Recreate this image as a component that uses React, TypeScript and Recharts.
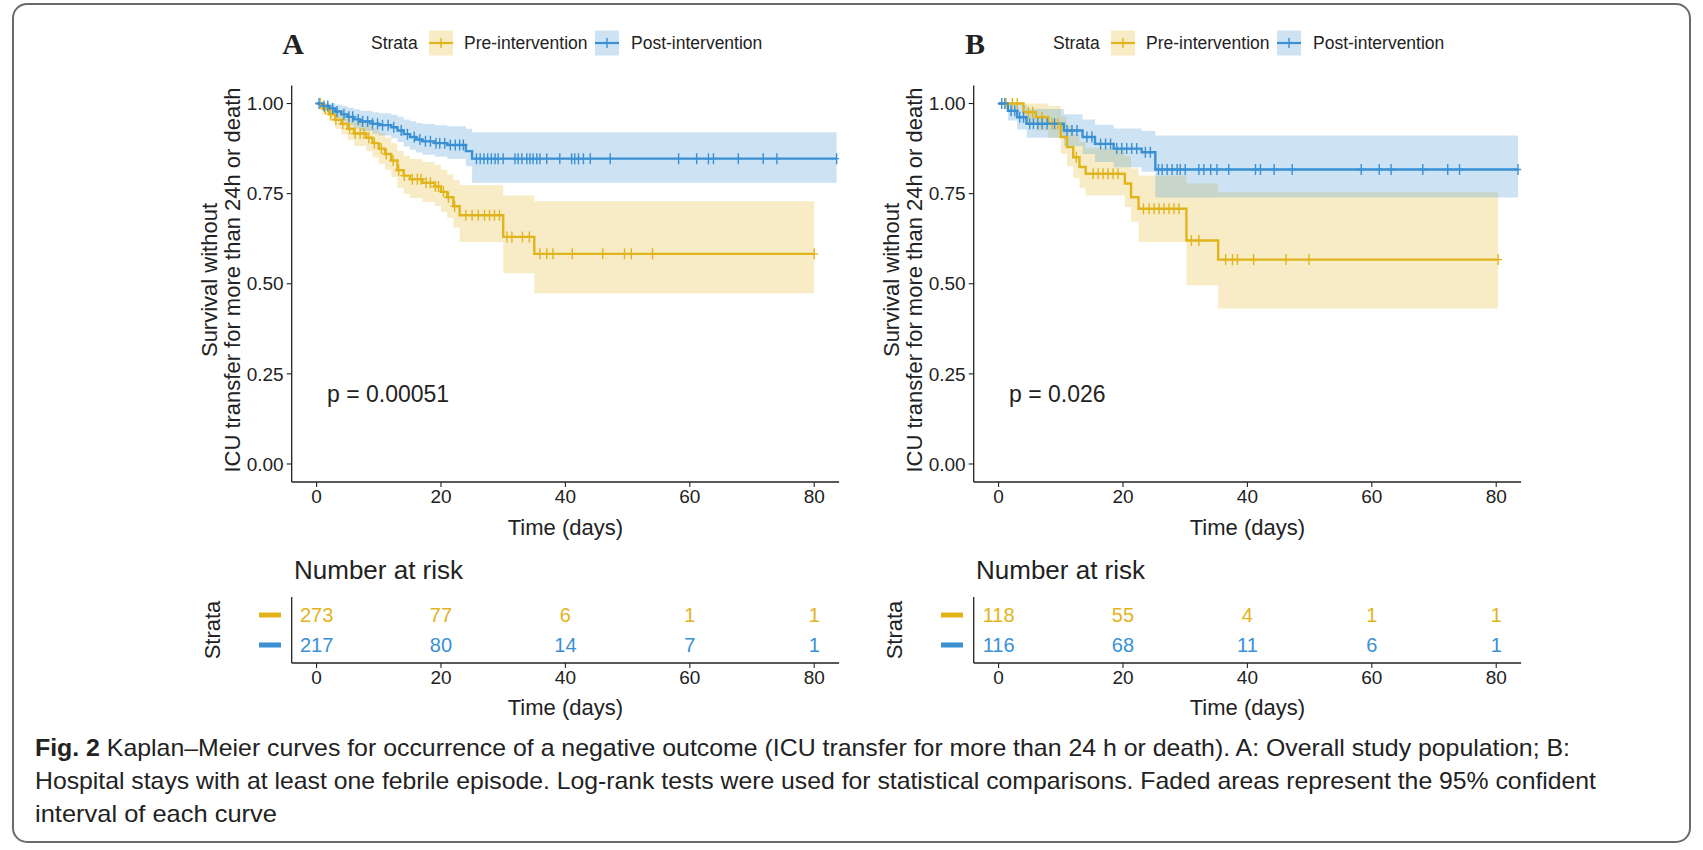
import React from 'react';
import { ComposedChart, Line, Area, Scatter, XAxis, YAxis } from 'recharts';

const FONT = "'Liberation Sans', Arial, Helvetica, sans-serif";
const GOLD = '#E2B41C';
const BLUE = '#3990D3';
const INK = '#222';

// ---- Panel A: overall study population ----
const preA_time = [0, 1, 2, 3, 4, 5, 6, 8, 9, 10, 11, 12, 13, 14, 15, 17, 19, 20, 21, 22, 23, 30, 35, 80];
const preA_surv = [1, 0.985, 0.97, 0.955, 0.944, 0.93, 0.917, 0.905, 0.89, 0.875, 0.86, 0.842, 0.815, 0.8, 0.79, 0.78, 0.77, 0.755, 0.74, 0.715, 0.69, 0.63, 0.583, 0.583];
const preA_lower = [1, 0.97, 0.95, 0.93, 0.915, 0.898, 0.882, 0.868, 0.85, 0.833, 0.816, 0.796, 0.766, 0.75, 0.738, 0.727, 0.716, 0.7, 0.683, 0.656, 0.616, 0.529, 0.473, 0.473];
const preA_upper = [1, 1, 0.99, 0.98, 0.972, 0.962, 0.952, 0.942, 0.93, 0.918, 0.906, 0.89, 0.868, 0.855, 0.846, 0.838, 0.83, 0.816, 0.803, 0.787, 0.773, 0.745, 0.729, 0.729];
const preA_censor = [0.6, 1.4, 2.3, 3.1, 4.2, 5.3, 6.2, 7, 7.6, 8.4, 9.3, 10.4, 11.2, 12.3, 13.2, 14.1, 15.4, 16.2, 16.8, 17.6, 18.3, 19.1, 19.6, 20.4, 21.2, 22.2, 24, 25, 26, 27, 27.8, 28.6, 29.4, 30.6, 31.4, 33.1, 34.2, 35.9, 37, 38, 41.1, 46, 49.5, 50.6, 54, 80];

const postA_time = [0, 1, 2, 3, 4, 5, 6, 7, 9, 10, 12, 13, 14, 15, 16, 17, 19, 21, 24, 25, 83.6];
const postA_surv = [1, 0.993, 0.986, 0.978, 0.97, 0.963, 0.956, 0.95, 0.944, 0.94, 0.934, 0.925, 0.915, 0.907, 0.9, 0.895, 0.89, 0.885, 0.868, 0.847, 0.847];
const postA_lower = [1, 0.983, 0.972, 0.96, 0.95, 0.94, 0.931, 0.924, 0.916, 0.911, 0.904, 0.893, 0.881, 0.872, 0.864, 0.858, 0.852, 0.846, 0.826, 0.78, 0.78];
const postA_upper = [1, 1, 1, 0.997, 0.993, 0.988, 0.984, 0.98, 0.976, 0.973, 0.969, 0.963, 0.956, 0.951, 0.946, 0.943, 0.94, 0.937, 0.93, 0.92, 0.92];
const postA_censor = [0.4, 1.2, 1.8, 2.6, 3.3, 4.4, 5.2, 5.8, 6.7, 7.4, 8.2, 9, 9.8, 10.6, 11.5, 12.4, 13.6, 14.6, 15.7, 16.6, 17.5, 18.3, 19.2, 19.8, 20.6, 21.5, 22.3, 23, 23.6, 25.7, 26.3, 26.9, 27.5, 28.1, 28.7, 29.2, 30, 31.9, 32.4, 33, 33.8, 34.3, 34.8, 35.4, 35.9, 37, 39.1, 41, 41.5, 42.1, 42.9, 44, 47.2, 58.2, 61.1, 63, 63.8, 67.8, 71.8, 74, 83.6];

// ---- Panel B: stays with at least one febrile episode ----
const preB_time = [0, 4, 6, 8, 10, 11, 12, 13, 14, 20.3, 21.3, 22.5, 30.2, 35.3, 80.3];
const preB_surv = [1, 0.976, 0.962, 0.944, 0.907, 0.879, 0.851, 0.824, 0.805, 0.778, 0.74, 0.708, 0.62, 0.567, 0.567];
const preB_lower = [1, 0.945, 0.925, 0.905, 0.86, 0.826, 0.793, 0.766, 0.745, 0.713, 0.672, 0.616, 0.496, 0.431, 0.431];
const preB_upper = [1, 1, 1, 0.993, 0.965, 0.94, 0.914, 0.893, 0.876, 0.853, 0.82, 0.8, 0.778, 0.754, 0.754];
const preB_censor = [1.2, 2.2, 3, 4.8, 5.5, 7, 8.6, 9.5, 12.5, 15.2, 16, 16.8, 17.6, 18.4, 19.2, 23.3, 24.2, 25, 25.8, 26.6, 27.4, 28.2, 29, 31, 32.2, 36.5, 37.6, 38.4, 41, 46.2, 49.9, 80.3];

const postB_time = [0, 1.5, 3, 4.5, 10.5, 13.5, 15.5, 18.5, 23, 25.2, 83.5];
const postB_surv = [1, 0.98, 0.962, 0.944, 0.925, 0.907, 0.888, 0.875, 0.865, 0.817, 0.817];
const postB_lower = [1, 0.953, 0.928, 0.905, 0.882, 0.86, 0.838, 0.823, 0.811, 0.739, 0.739];
const postB_upper = [1, 1, 0.996, 0.985, 0.97, 0.956, 0.941, 0.931, 0.924, 0.911, 0.911];
const postB_censor = [0.5, 1, 2, 2.6, 3.4, 4, 5, 5.6, 6.3, 7, 7.8, 9, 11, 11.8, 12.6, 14.2, 15, 16.4, 17.2, 18, 19, 19.8, 20.6, 21.4, 22.2, 23.6, 24.4, 25.7, 26.3, 27.1, 27.9, 28.7, 29.2, 30, 32.2, 33, 34.1, 35.1, 37, 41.3, 42.1, 44.3, 47.2, 58.3, 61.2, 63.1, 68.2, 72.2, 74.1, 83.5];

// ---- number at risk ----
const timeTicks = [0, 20, 40, 60, 80];
const riskA_pre = [273, 77, 6, 1, 1];
const riskA_post = [217, 80, 14, 7, 1];
const riskB_pre = [118, 55, 4, 1, 1];
const riskB_post = [116, 68, 11, 6, 1];

const survTicks = [0, 0.25, 0.5, 0.75, 1];
const strataLabels = ['Pre-intervention', 'Post-intervention'];
const pValues = ['p = 0.00051', 'p = 0.026'];
const yTitle = ['Survival without', 'ICU transfer for more than 24h or death'];
const captionLines = [
  'Kaplan\u2013Meier curves for occurrence of a negative outcome (ICU transfer for more than 24 h or death). A: Overall study population; B:',
  'Hospital stays with at least one febrile episode. Log-rank tests were used for statistical comparisons. Faded areas represent the 95% confident',
  'interval of each curve',
];

const steps = (time: number[], surv: number[], lo: number[], hi: number[]) =>
  time.map((t, i) => ({ t, s: surv[i], ci: [lo[i], hi[i]] }));

const censorPoints = (censor: number[], time: number[], surv: number[]) =>
  censor.map((c) => {
    let k = 0;
    time.forEach((t, i) => { if (t <= c) k = i; });
    return { t: c, s: surv[k] };
  });

const riskRows = (pre: number[], post: number[]) => [
  timeTicks.map((t, i) => ({ t, row: 2, n: pre[i] })),
  timeTicks.map((t, i) => ({ t, row: 1, n: post[i] })),
];

const plusShape = (color: string) => (p: any) => (
  <g stroke={color} strokeWidth={1.4}>
    <line x1={p.cx} x2={p.cx} y1={p.cy - 5.5} y2={p.cy + 5.5} />
    <line x1={p.cx - 4} x2={p.cx + 4} y1={p.cy} y2={p.cy} />
  </g>
);

const riskText = (color: string) => (p: any) => (
  <text x={p.cx} y={p.cy} textAnchor="middle" dominantBaseline="central" fill={color} fontSize={20} fontFamily={FONT}>
    {p.payload.n}
  </text>
);

const StrataTick = (p: any) => (
  <rect x={109} y={p.y - 2.5} width={22} height={5} fill={p.payload.value === 2 ? GOLD : BLUE} />
);

const axisProps = {
  axisLine: { stroke: INK, strokeWidth: 1.3 },
  tickLine: { stroke: INK, strokeWidth: 1.1 },
  tick: { fill: INK, fontSize: 19, fontFamily: FONT },
};

const MARGIN_KM = { top: 25.5, right: 20.9, bottom: 18, left: 81.7 };
const MARGIN_RISK = { top: 12, right: 20.9, bottom: 12, left: 81.7 };

function Panel({ dx, pre, post, risk }: any) {
  const preSteps = steps(pre.time, pre.surv, pre.lower, pre.upper);
  const postSteps = steps(post.time, post.surv, post.lower, post.upper);
  const [riskPre, riskPost] = riskRows(risk.pre, risk.post);
  return (
    <>
      <div style={{ position: 'absolute', left: 150 + dx, top: 60 }}>
        <ComposedChart width={710} height={490} margin={MARGIN_KM}>
          <XAxis type="number" dataKey="t" domain={[-4, 84]} ticks={timeTicks} allowDataOverflow
            height={50} tickSize={5} tickMargin={3} {...axisProps} />
          <YAxis type="number" domain={[-0.05, 1.05]} ticks={survTicks} allowDataOverflow width={60}
            tickSize={5} tickMargin={3} tickFormatter={(v: number) => v.toFixed(2)} {...axisProps} />
          <Area data={preSteps} dataKey="ci" type="stepAfter" fill={GOLD} fillOpacity={0.25} stroke="none" isAnimationActive={false} />
          <Area data={postSteps} dataKey="ci" type="stepAfter" fill={BLUE} fillOpacity={0.25} stroke="none" isAnimationActive={false} />
          <Line data={preSteps} dataKey="s" type="stepAfter" stroke={GOLD} strokeWidth={2.4} dot={false} isAnimationActive={false} />
          <Line data={postSteps} dataKey="s" type="stepAfter" stroke={BLUE} strokeWidth={2.4} dot={false} isAnimationActive={false} />
          <Scatter data={censorPoints(pre.censor, pre.time, pre.surv)} dataKey="s" shape={plusShape(GOLD)} isAnimationActive={false} />
          <Scatter data={censorPoints(post.censor, post.time, post.surv)} dataKey="s" shape={plusShape(BLUE)} isAnimationActive={false} />
        </ComposedChart>
      </div>
      <div style={{ position: 'absolute', left: 150 + dx, top: 585 }}>
        <ComposedChart width={710} height={140} margin={MARGIN_RISK}>
          <XAxis type="number" dataKey="t" domain={[-4, 84]} ticks={timeTicks} allowDataOverflow
            height={50} tickSize={5} tickMargin={3} {...axisProps} />
          <YAxis type="number" domain={[0.4, 2.6]} ticks={[1, 2]} width={60} tickLine={false}
            axisLine={{ stroke: INK, strokeWidth: 1.3 }} tick={StrataTick} />
          <Scatter data={riskPre} dataKey="row" shape={riskText(GOLD)} isAnimationActive={false} />
          <Scatter data={riskPost} dataKey="row" shape={riskText(BLUE)} isAnimationActive={false} />
        </ComposedChart>
      </div>
    </>
  );
}

function PanelText({ dx, letter, p }: { dx: number; letter: string; p: string }) {
  const t = { fontFamily: FONT, fill: INK, dominantBaseline: 'central' as const };
  return (
    <g>
      <text x={293 + dx} y={43} textAnchor="middle" fontFamily="'Liberation Serif', serif" fontWeight="bold" fontSize={30} fill={INK} dominantBaseline="central">{letter}</text>
      <text x={371 + dx} y={43} fontSize={17.5} {...t}>Strata</text>
      {[GOLD, BLUE].map((c, i) => {
        const kx = (i === 0 ? 429 : 595) + dx;
        return (
          <g key={c}>
            <rect x={kx} y={30.5} width={24} height={25} fill={c} fillOpacity={0.25} />
            <line x1={kx} x2={kx + 24} y1={43} y2={43} stroke={c} strokeWidth={2.2} />
            <line x1={kx + 12} x2={kx + 12} y1={38} y2={48} stroke={c} strokeWidth={1.4} />
            <text x={(i === 0 ? 464 : 631) + dx} y={43} fontSize={17.5} {...t}>{strataLabels[i]}</text>
          </g>
        );
      })}
      <text transform={`rotate(-90, ${209 + dx}, 280)`} x={209 + dx} y={280} textAnchor="middle" fontSize={22} {...t}>{yTitle[0]}</text>
      <text transform={`rotate(-90, ${232 + dx}, 280)`} x={232 + dx} y={280} textAnchor="middle" fontSize={22} {...t}>{yTitle[1]}</text>
      <text x={327 + dx} y={394} fontSize={23} {...t}>{p}</text>
      <text x={565.4 + dx} y={527} textAnchor="middle" fontSize={22} {...t}>Time (days)</text>
      <text x={294 + dx} y={570} fontSize={26} {...t}>Number at risk</text>
      <text transform={`rotate(-90, ${212 + dx}, 630)`} x={212 + dx} y={630} textAnchor="middle" fontSize={22} {...t}>Strata</text>
      <text x={565.4 + dx} y={707} textAnchor="middle" fontSize={22} {...t}>Time (days)</text>
    </g>
  );
}

export default function App() {
  const cap = { fontSize: 24, fontFamily: FONT, fill: INK, dominantBaseline: 'central' as const, lengthAdjust: 'spacingAndGlyphs' };
  return (
    <div style={{ position: 'absolute', left: 0, top: 0, width: 1703, height: 850, background: '#fff' }}>
      <svg width={1703} height={850} style={{ position: 'absolute', left: 0, top: 0 }}>
        <rect x={13} y={4} width={1677} height={838} rx={14} fill="none" stroke="#6b6b6b" strokeWidth={2} />
        <PanelText dx={0} letter="A" p={pValues[0]} />
        <PanelText dx={682} letter="B" p={pValues[1]} />
        <text x={35} y={747} textLength={1535} {...cap}>
          <tspan fontWeight="bold">Fig. 2</tspan>
          <tspan>{'  ' + captionLines[0]}</tspan>
        </text>
        <text x={35} y={780} textLength={1561} {...cap}>{captionLines[1]}</text>
        <text x={35} y={813} textLength={242} {...cap}>{captionLines[2]}</text>
      </svg>
      <Panel dx={0}
        pre={{ time: preA_time, surv: preA_surv, lower: preA_lower, upper: preA_upper, censor: preA_censor }}
        post={{ time: postA_time, surv: postA_surv, lower: postA_lower, upper: postA_upper, censor: postA_censor }}
        risk={{ pre: riskA_pre, post: riskA_post }} />
      <Panel dx={682}
        pre={{ time: preB_time, surv: preB_surv, lower: preB_lower, upper: preB_upper, censor: preB_censor }}
        post={{ time: postB_time, surv: postB_surv, lower: postB_lower, upper: postB_upper, censor: postB_censor }}
        risk={{ pre: riskB_pre, post: riskB_post }} />
    </div>
  );
}
